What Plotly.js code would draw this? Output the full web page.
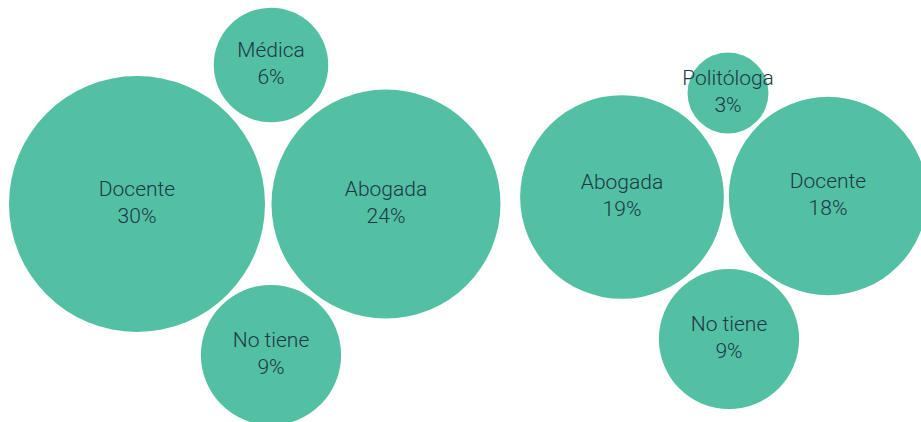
<!DOCTYPE html>
<html>
<head>
<meta charset="utf-8">
<script src="https://cdn.plot.ly/plotly-3.0.1.min.js"></script>
<style>
html,body{margin:0;padding:0;background:#fff;}
#chart{width:921px;height:422px;}
</style>
</head>
<body>
<div id="chart"></div>
<script>
// Data: group 1
const groupACategories = ['Docente', 'Abogada', 'Médica', 'No tiene'];
const groupAValues = [30, 24, 6, 9];
// Data: group 2
const groupBCategories = ['Abogada', 'Docente', 'Politóloga', 'No tiene'];
const groupBValues = [19, 18, 3, 9];

// Packing layout (pixel-space coordinates of bubble centres)
const groupAX = [137, 386, 271, 271];
const groupAY = [204, 204, 65, 355];
const groupBX = [622, 828, 728, 729];
const groupBY = [197, 196, 93, 339];

const fill = '#53bfa3';
const textColor = '#1b3946';
const maxValue = 30, maxDiameter = 256;
const sizeref = 2 * maxValue / (maxDiameter * maxDiameter);

function trace(cats, vals, xs, ys) {
  return {
    type: 'scatter',
    mode: 'markers+text',
    x: xs, y: ys,
    text: cats.map((c, i) => c + '<br>' + vals[i] + '%'),
    textposition: 'middle center',
    textfont: {family: 'Roboto, sans-serif', size: 21, weight: 300, color: textColor},
    marker: {size: vals, sizemode: 'area', sizeref: sizeref, color: fill, opacity: 1, line: {width: 0}},
    cliponaxis: false,
    hoverinfo: 'text',
    showlegend: false
  };
}

const data = [
  trace(groupACategories, groupAValues, groupAX, groupAY),
  trace(groupBCategories, groupBValues, groupBX, groupBY)
];

const layout = {
  width: 921, height: 422,
  margin: {l: 0, r: 0, t: 0, b: 0},
  paper_bgcolor: '#ffffff', plot_bgcolor: '#ffffff',
  xaxis: {range: [0, 921], visible: false, fixedrange: true},
  yaxis: {range: [422, 0], visible: false, fixedrange: true},
  showlegend: false
};

Plotly.newPlot('chart', data, layout, {displayModeBar: false, staticPlot: true});
</script>
</body>
</html>
